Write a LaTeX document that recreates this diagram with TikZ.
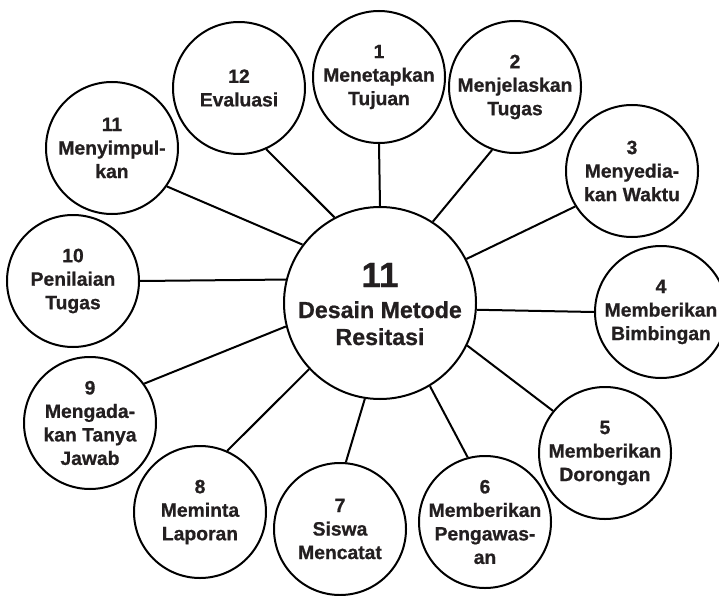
\documentclass[tikz,border=0pt]{standalone}
\usepackage{fontspec}
\setmainfont{Liberation Sans}
\newfontfamily\lbfont{Liberation Sans}[UprightFont={* Bold},FakeBold=0.8]
\definecolor{txtc}{HTML}{231F20}
\begin{document}
\begin{tikzpicture}[x=1pt,y=-1pt,
 bub/.style={circle,draw=black,line width=2pt,minimum size=132pt,inner sep=0pt},
 hub/.style={circle,draw=black,line width=2pt,minimum size=192pt,inner sep=0pt},
 lbl/.style={align=center,text=txtc,font=\lbfont\fontsize{19.3}{23.5}\selectfont,inner sep=0pt},
 big/.style={anchor=base,text=txtc,inner sep=0pt,font=\lbfont\fontsize{35}{35}\selectfont},
 mid/.style={anchor=base,text=txtc,inner sep=0pt,font=\lbfont\fontsize{23.2}{27}\selectfont},
 link/.style={line width=2pt}]
\useasboundingbox (0,0) rectangle (719,596);
% hub
\node[hub] (hub) at (380,303) {};
\node[big] (h1) at (380,287) {11};
\node[mid] (h2) at (380,318) {Desain Metode};
\node[mid] (h3) at (380,345) {Resitasi};
% outer circles
\node[bub] (n1) at (379,77) {};
\node[lbl] (t1) at (n1) {1\\Menetapkan\\Tujuan};
\node[bub] (n2) at (515,87) {};
\node[lbl] (t2) at (n2) {2\\Menjelaskan\\Tugas};
\node[bub] (n3) at (632,171) {};
\node[lbl] (t3) at (n3) {3\\Menyedia-\\kan Waktu};
\node[bub] (n4) at (661,312) {};
\node[lbl] (t4) at (n4) {4\\Memberikan\\Bimbingan};
\node[bub] (n5) at (605,453) {};
\node[lbl] (t5) at (n5) {5\\Memberikan\\Dorongan};
\node[bub] (n6) at (485,522) {};
\node[lbl] (t6) at (n6) {6\\Memberikan\\Pengawas-\\an};
\node[bub] (n7) at (340,529) {};
\node[lbl] (t7) at (n7) {7\\Siswa\\Mencatat};
\node[bub] (n8) at (200,512) {};
\node[lbl] (t8) at (n8) {8\\Meminta\\Laporan};
\node[bub] (n9) at (90,423) {};
\node[lbl] (t9) at (n9) {9\\Mengada-\\kan Tanya\\Jawab};
\node[bub] (n10) at (73,281) {};
\node[lbl] (t10) at (n10) {10\\Penilaian\\Tugas};
\node[bub] (n11) at (112,148) {};
\node[lbl] (t11) at (n11) {11\\Menyimpul-\\kan};
\node[bub] (n12) at (239,88) {};
\node[lbl] (t12) at (n12) {12\\Evaluasi};
% connectors
\draw[link] (hub.90) -- (n1.270);
\draw[link] (hub.57) -- (n2.250);
\draw[link] (hub.27) -- (n3.212);
\draw[link] (hub.-4.7) -- (n4.180);
\draw[link] (hub.-26.8) -- (n5.141.6);
\draw[link] (hub.-59.3) -- (n6.105.6);
\draw[link] (hub.261) -- (n7.85.7);
\draw[link] (hub.223) -- (n8.66);
\draw[link] (hub.194.2) -- (n9.36.2);
\draw[link] (hub.166.9) -- (n10.0);
\draw[link] (hub.143.4) -- (n11.-35.3);
\draw[link] (hub.118.6) -- (n12.-66);
\end{tikzpicture}
\end{document}
